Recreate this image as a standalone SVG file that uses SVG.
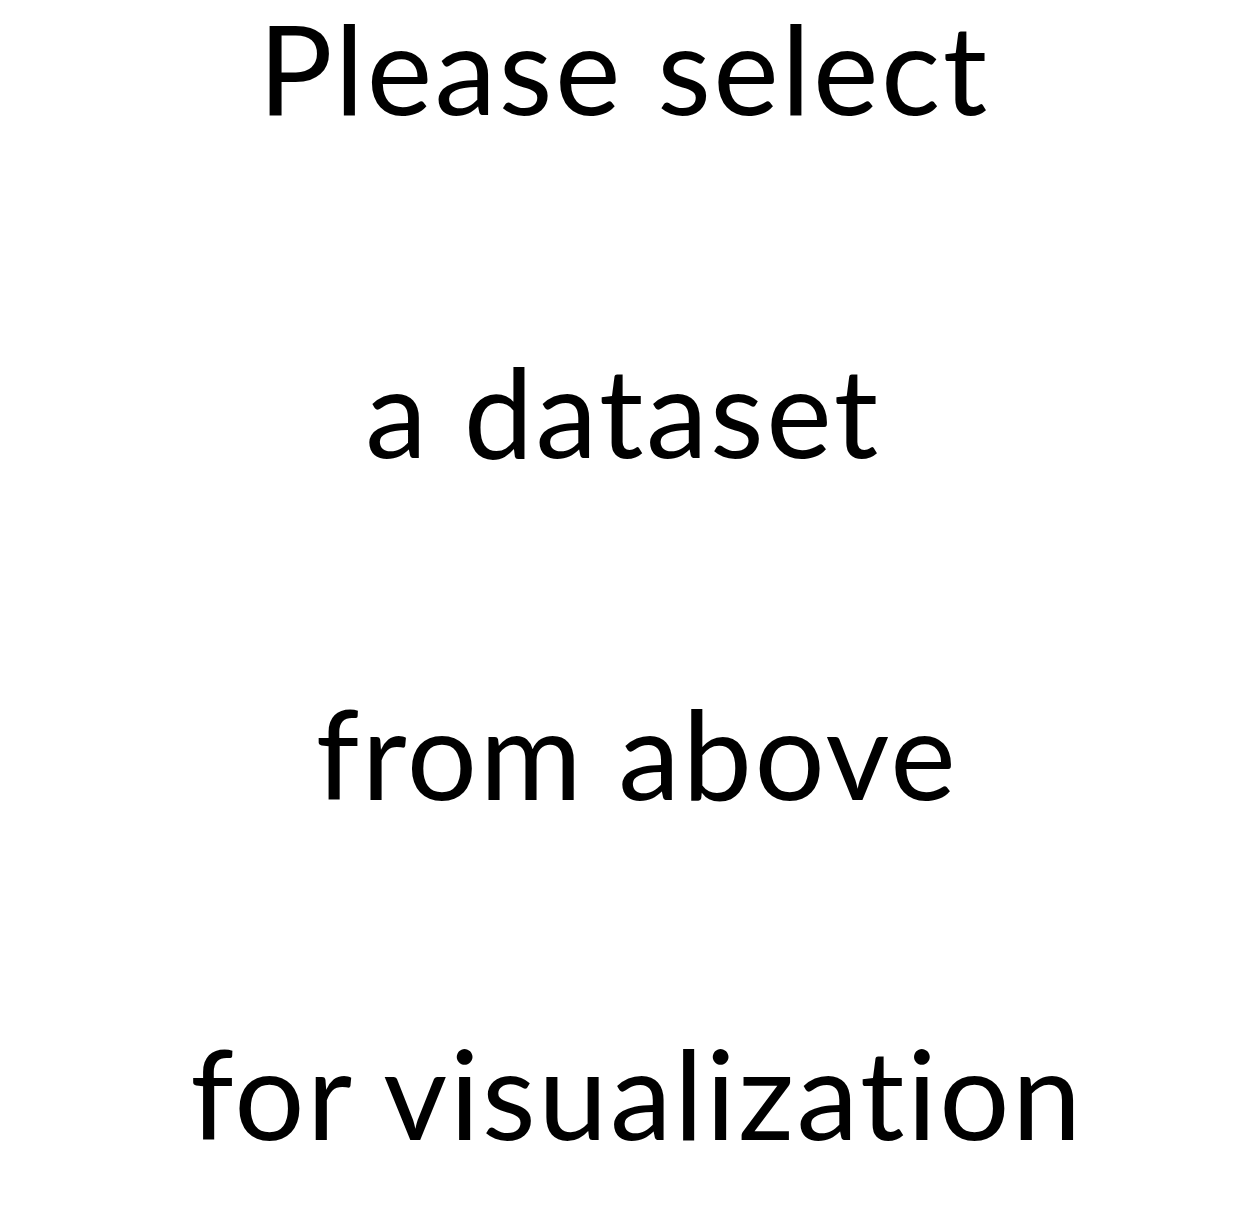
<svg xmlns="http://www.w3.org/2000/svg" width="1244" height="1220" viewBox="0 0 1244 1220">
<style>
text{font-family:"Lato","Liberation Sans",sans-serif;font-size:124px;letter-spacing:2.5px;font-variant-ligatures:none;fill:#000;text-anchor:middle}
</style>
<rect width="1244" height="1220" fill="#fff"/>
<g id="message">
<text x="624" y="115">Please select</text>
<text x="623" y="458">a dataset</text>
<text x="637" y="800">from above</text>
<text x="637" y="1140">for visualization</text>
</g>
</svg>
